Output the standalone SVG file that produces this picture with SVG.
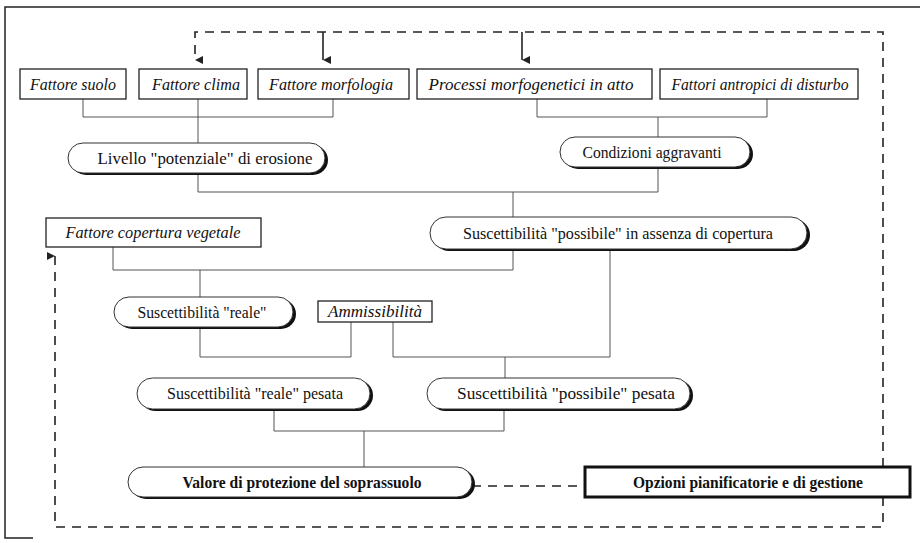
<svg xmlns="http://www.w3.org/2000/svg" width="920" height="543" viewBox="0 0 920 543">
<defs>
<style>
.bg{fill:#fff}
.frame{fill:none;stroke:#222;stroke-width:1.5}
.box{fill:#fff;stroke:#222;stroke-width:1.3}
.boxb{fill:#fff;stroke:#111;stroke-width:3}
.pill{fill:#fff;stroke:#333;stroke-width:1}
.shadow{fill:#111}
.conn{fill:none;stroke:#555;stroke-width:1}
.dash{fill:none;stroke:#222;stroke-width:1.6;stroke-dasharray:9 7}
.solid{fill:none;stroke:#222;stroke-width:1.6}
text{font-family:"Liberation Serif","Times New Roman",serif;font-size:16.5px;fill:#111;text-anchor:middle}
.it{font-style:italic}
.b{font-weight:bold}
</style>
<marker id="ah" viewBox="0 0 10 10" refX="5" refY="10" markerWidth="8" markerHeight="8" orient="auto-start-reverse" markerUnits="userSpaceOnUse">
<path d="M0,0 L10,0 L5,10 Z" fill="#222"/>
</marker>
</defs>
<rect class="bg" x="0" y="0" width="920" height="543"/>
<g id="frame">
<path class="frame" d="M920,7 H5 V538 H33"/>
</g>
<g id="connectors">
<path class="conn" d="M83,99 V117 H333 V99 M198,99 V143"/>
<path class="conn" d="M537,99 V117 H767 V99 M658,117 V137"/>
<path class="conn" d="M198,173 V192 H658 V167 M513,192 V217"/>
<path class="conn" d="M113,247 V270 H513 V249 M200,270 V297"/>
<path class="conn" d="M200,327 V357 H351 V322"/>
<path class="conn" d="M393,322 V357 H610 V249 M505,357 V378"/>
<path class="conn" d="M274,409 V431 H504 V409 M364,431 V467"/>
<path class="dash" d="M472,486 H585"/>
<path class="dash" d="M883,467 V32 H195 V60" marker-end="url(#ah)"/>
<path class="solid" d="M323,32 V60" marker-end="url(#ah)"/>
<path class="solid" d="M522,32 V60" marker-end="url(#ah)"/>
<path class="dash" d="M883,497 V527 H55 V256" marker-end="url(#ah)"/>
</g>
<g id="n-suolo"><rect class="box" x="20" y="69" width="106" height="30"/><text class="it" x="73" y="90" textLength="86" lengthAdjust="spacingAndGlyphs">Fattore suolo</text></g>
<g id="n-clima"><rect class="box" x="139" y="69" width="108" height="30"/><text class="it" x="196" y="90" textLength="88" lengthAdjust="spacingAndGlyphs">Fattore clima</text></g>
<g id="n-morfologia"><rect class="box" x="258" y="69" width="151" height="30"/><text class="it" x="331" y="90" textLength="124" lengthAdjust="spacingAndGlyphs">Fattore morfologia</text></g>
<g id="n-processi"><rect class="box" x="417" y="69" width="235" height="30"/><text class="it" x="531" y="90" textLength="205" lengthAdjust="spacingAndGlyphs">Processi morfogenetici in atto</text></g>
<g id="n-antropici"><rect class="box" x="660" y="69" width="198" height="30"/><text class="it" x="760" y="90" textLength="177" lengthAdjust="spacingAndGlyphs">Fattori antropici di disturbo</text></g>
<g id="n-livello"><rect class="shadow" x="71" y="145" width="257" height="30" rx="15"/><rect class="pill" x="68" y="143" width="257" height="30" rx="15"/><text x="205" y="163.5" textLength="215" lengthAdjust="spacingAndGlyphs">Livello "potenziale" di erosione</text></g>
<g id="n-condizioni"><rect class="shadow" x="563" y="139" width="190" height="30" rx="15"/><rect class="pill" x="560" y="137" width="190" height="30" rx="15"/><text x="652" y="157.5" textLength="139" lengthAdjust="spacingAndGlyphs">Condizioni aggravanti</text></g>
<g id="n-copertura"><rect class="box" x="46" y="218" width="215" height="29"/><text class="it" x="153" y="238" textLength="175" lengthAdjust="spacingAndGlyphs">Fattore copertura vegetale</text></g>
<g id="n-possibile"><rect class="shadow" x="433" y="219" width="377" height="32" rx="16"/><rect class="pill" x="430" y="217" width="377" height="32" rx="16"/><text x="618" y="238.5" textLength="310" lengthAdjust="spacingAndGlyphs">Suscettibilità "possibile"  in assenza di copertura</text></g>
<g id="n-reale"><rect class="shadow" x="117" y="299" width="179" height="30" rx="15"/><rect class="pill" x="114" y="297" width="179" height="30" rx="15"/><text x="202" y="317.5" textLength="129" lengthAdjust="spacingAndGlyphs">Suscettibilità "reale"</text></g>
<g id="n-ammissibilita"><rect class="box" x="318" y="301" width="114" height="21"/><text class="it" x="375" y="317" textLength="94" lengthAdjust="spacingAndGlyphs">Ammissibilità</text></g>
<g id="n-reale-pesata"><rect class="shadow" x="140" y="380" width="233" height="31" rx="15.5"/><rect class="pill" x="137" y="378" width="233" height="31" rx="15.5"/><text x="255" y="399" textLength="176" lengthAdjust="spacingAndGlyphs">Suscettibilità "reale" pesata</text></g>
<g id="n-possibile-pesata"><rect class="shadow" x="430" y="380" width="263" height="31" rx="15.5"/><rect class="pill" x="427" y="378" width="263" height="31" rx="15.5"/><text x="566" y="399" textLength="218" lengthAdjust="spacingAndGlyphs">Suscettibilità "possibile" pesata</text></g>
<g id="n-valore"><rect class="shadow" x="131" y="469" width="344" height="30" rx="15"/><rect class="pill" x="128" y="467" width="344" height="30" rx="15"/><text class="b" x="302" y="488" textLength="239" lengthAdjust="spacingAndGlyphs">Valore di protezione del soprassuolo</text></g>
<g id="n-opzioni"><rect class="boxb" x="585" y="467" width="325" height="30"/><text class="b" x="748" y="488" textLength="230" lengthAdjust="spacingAndGlyphs">Opzioni  pianificatorie e di gestione</text></g>
</svg>
